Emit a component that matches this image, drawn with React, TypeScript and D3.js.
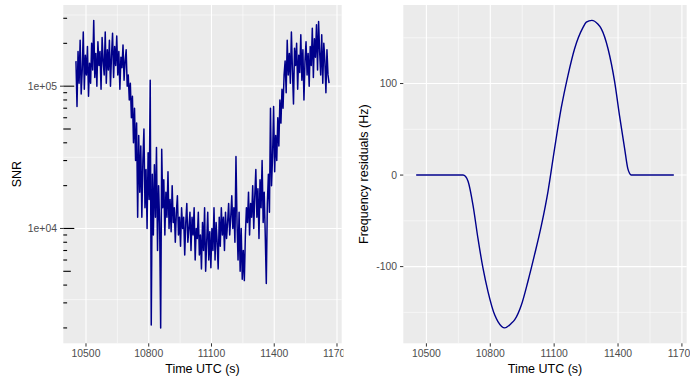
import React from "react";
import * as d3 from "d3";

// SNR samples every 5 s from 10452 s, in thousands
const snrStart = 10452;
const snrStep = 5;
const snrThousands = [
  150, 72, 175, 105, 210, 88, 130, 240, 95, 165,
  120, 190, 85, 145, 105, 200, 130, 290, 115, 170,
  100, 205, 140, 175, 95, 220, 150, 120, 240, 105,
  180, 130, 210, 100, 165, 235, 115, 190, 140, 225,
  120, 175, 95, 160, 135, 195, 110, 150, 180, 100,
  120, 80, 105, 60, 85, 40, 70, 30, 55, 12,
  45, 18, 38, 12, 30, 50, 14, 26, 10, 34,
  16, 110, 2.1, 24, 9, 28, 12, 37, 7, 20,
  11, 2.0, 36, 14, 22, 9, 18, 12, 25, 10,
  16, 9.5, 20, 11, 14, 8, 13, 17, 9, 12,
  7.5, 14, 10, 12, 6.5, 11, 15, 8, 10, 13,
  7, 12, 9, 14, 6, 10, 8.5, 13, 6.5, 9,
  5.2, 11, 7, 14, 5.0, 8, 13, 6, 9.5, 5.3,
  10, 7, 14, 6, 11, 8, 5.2, 12, 7.5, 14,
  9, 12, 7, 13, 8.5, 11, 15, 9, 12, 17,
  10, 14, 8, 32, 11, 6, 13, 5, 10, 4.4,
  7, 4.3, 9, 14, 11, 18, 9, 15, 12, 20,
  10, 17, 26, 12, 19, 8.5, 22, 14, 30, 11,
  18, 9, 4.1, 15, 24, 13, 70, 20, 32, 72,
  25, 45, 30, 60, 38, 80, 55, 95, 70, 120,
  150, 90, 210, 120, 170, 105, 240, 130, 75, 185,
  140, 200, 95, 165, 125, 230, 110, 180, 80, 150,
  205, 120, 170, 100, 190, 140, 255, 115, 215, 160,
  270, 130, 285, 175, 120, 230, 105, 200, 150, 90,
  180, 120, 105,
];

// frequency residuals (Hz) against time (s)
const freqTime = [
  10452, 10672, 10684, 10696, 10719, 10742, 10766, 10789, 10821, 10836, 10868,
  10899, 10915, 10946, 10977, 11008, 11040, 11071, 11102, 11133, 11165, 11196,
  11235, 11251, 11277, 11305, 11321, 11353, 11384, 11407, 11431, 11446, 11454,
  11462, 11662,
];
const freqResidual = [
  0, 0, -1.5, -7, -33, -69, -102, -127, -153, -160, -167,
  -162, -158, -142, -116, -87, -55, -18, 29, 73, 109, 138,
  161, 167, 169, 165, 160, 138, 102, 65, 29, 7, 2,
  0, 0,
];

const timeTicks = [10500, 10800, 11100, 11400, 11700];
const timeMinor = [10350, 10650, 10950, 11250, 11550, 11850];
const snrTicks = [1e4, 1e5];
const snrTickLabels = ["1e+04", "1e+05"];
const snrMinorExp = [3.5, 4.5, 5.5];
const freqTicks = [-100, 0, 100];
const freqTickLabels = ["-100", "0", "100"];
const freqMinor = [-150, -50, 50, 150];

const FONT = "'Liberation Sans', Arial, Helvetica, sans-serif";
const PANEL_BG = "#EBEBEB";
const LINE = "#00008B";

const snrData = snrThousands.map((v, i) => ({ t: snrStart + i * snrStep, v: v * 1000 }));
const freqData = freqTime.map((t, i) => ({ t, v: freqResidual[i] }));

function expand(ext: [number, number]): [number, number] {
  const r = ext[1] - ext[0];
  return [ext[0] - r * 0.05, ext[1] + r * 0.05];
}

export default function App() {
  const top = 5;
  const bottom = 343.3;

  // left panel
  const L = { x0: 63.3, x1: 341.7 };
  const xL = d3
    .scaleLinear()
    .domain(expand(d3.extent(snrData, (d) => d.t) as [number, number]))
    .range([L.x0, L.x1]);
  const logExt = expand(
    d3.extent(snrData, (d) => Math.log10(d.v)) as [number, number]
  );
  const yL = d3
    .scaleLog()
    .domain([Math.pow(10, logExt[0]), Math.pow(10, logExt[1])])
    .range([bottom, top]);
  const snrLine = d3
    .line<{ t: number; v: number }>()
    .x((d) => xL(d.t))
    .y((d) => yL(d.v));

  // right panel
  const R = { x0: 403.3, x1: 686.7 };
  const xR = d3
    .scaleLinear()
    .domain(expand(d3.extent(freqData, (d) => d.t) as [number, number]))
    .range([R.x0, R.x1]);
  const yR = d3
    .scaleLinear()
    .domain(expand(d3.extent(freqData, (d) => d.v) as [number, number]))
    .range([bottom, top]);
  const freqLine = d3
    .line<{ t: number; v: number }>()
    .x((d) => xR(d.t))
    .y((d) => yR(d.v))
    .curve(d3.curveMonotoneX);

  // log ticks inside left panel
  const [dLo, dHi] = yL.domain();
  const logTicks: { v: number; len: number }[] = [];
  [1e3, 1e4, 1e5].forEach((dec) => {
    for (let m = 1; m <= 9; m++) {
      const v = dec * m;
      if (v >= dLo && v <= dHi) logTicks.push({ v, len: m === 1 ? 11 : m === 5 ? 7.5 : 3.8 });
    }
  });

  const inRange = (s: any, v: number) => {
    const r = s.range();
    const p = s(v);
    return p >= Math.min(r[0], r[1]) && p <= Math.max(r[0], r[1]);
  };

  const xAxis = (xs: any, x0: number, x1: number) => (
    <g>
      {timeTicks.map((t) => (
        <g key={t}>
          <line x1={xs(t)} x2={xs(t)} y1={bottom} y2={bottom + 3.3} stroke="#333" strokeWidth={1} />
          <text x={xs(t)} y={bottom + 13.3} textAnchor="middle" fontSize={10.4} fill="#4d4d4d" fontFamily={FONT}>
            {t}
          </text>
        </g>
      ))}
      <text x={(x0 + x1) / 2} y={373} textAnchor="middle" fontSize={12.5} fill="#000" fontFamily={FONT}>
        Time UTC (s)
      </text>
    </g>
  );

  const vGrid = (xs: any) => (
    <g>
      {timeMinor.filter((t) => inRange(xs, t)).map((t) => (
        <line key={"m" + t} x1={xs(t)} x2={xs(t)} y1={top} y2={bottom} stroke="#fff" strokeWidth={0.55} />
      ))}
      {timeTicks.filter((t) => inRange(xs, t)).map((t) => (
        <line key={"M" + t} x1={xs(t)} x2={xs(t)} y1={top} y2={bottom} stroke="#fff" strokeWidth={1.1} />
      ))}
    </g>
  );

  return (
    <svg width={690} height={378} style={{ position: "absolute", left: 0, top: 0, background: "#fff" }}>
      <defs>
        <clipPath id="leftClip">
          <rect x={0} y={0} width={343.5} height={378} />
        </clipPath>
      </defs>

      {/* LEFT PLOT */}
      <g clipPath="url(#leftClip)">
        <rect x={L.x0} y={top} width={L.x1 - L.x0} height={bottom - top} fill={PANEL_BG} />
        {snrMinorExp.map((e) => (
          <line key={e} x1={L.x0} x2={L.x1} y1={yL(Math.pow(10, e))} y2={yL(Math.pow(10, e))} stroke="#fff" strokeWidth={0.55} />
        ))}
        {snrTicks.map((v) => (
          <line key={v} x1={L.x0} x2={L.x1} y1={yL(v)} y2={yL(v)} stroke="#fff" strokeWidth={1.1} />
        ))}
        {vGrid(xL)}
        <path d={snrLine(snrData) || ""} fill="none" stroke={LINE} strokeWidth={1.5} strokeLinejoin="round" />
        {logTicks.map((d) => (
          <line key={d.v} x1={L.x0} x2={L.x0 + d.len} y1={yL(d.v)} y2={yL(d.v)} stroke="#000" strokeWidth={1.1} />
        ))}
        {snrTicks.map((v, i) => (
          <g key={v}>
            <line x1={L.x0 - 3.3} x2={L.x0} y1={yL(v)} y2={yL(v)} stroke="#333" strokeWidth={1} />
            <text x={L.x0 - 6.3} y={yL(v) + 3.7} textAnchor="end" fontSize={10.4} fill="#4d4d4d" fontFamily={FONT}>
              {snrTickLabels[i]}
            </text>
          </g>
        ))}
        {xAxis(xL, L.x0, L.x1)}
        <text transform={`translate(20.5, ${(top + bottom) / 2}) rotate(-90)`} textAnchor="middle" fontSize={12.5} fill="#000" fontFamily={FONT}>
          SNR
        </text>
      </g>

      {/* RIGHT PLOT */}
      <g>
        <rect x={R.x0} y={top} width={R.x1 - R.x0} height={bottom - top} fill={PANEL_BG} />
        {freqMinor.map((v) => (
          <line key={v} x1={R.x0} x2={R.x1} y1={yR(v)} y2={yR(v)} stroke="#fff" strokeWidth={0.55} />
        ))}
        {freqTicks.map((v) => (
          <line key={v} x1={R.x0} x2={R.x1} y1={yR(v)} y2={yR(v)} stroke="#fff" strokeWidth={1.1} />
        ))}
        {vGrid(xR)}
        <path d={freqLine(freqData) || ""} fill="none" stroke={LINE} strokeWidth={1.4} />
        {freqTicks.map((v, i) => (
          <g key={v}>
            <line x1={R.x0 - 3.3} x2={R.x0} y1={yR(v)} y2={yR(v)} stroke="#333" strokeWidth={1} />
            <text x={R.x0 - 6.3} y={yR(v) + 3.7} textAnchor="end" fontSize={10.4} fill="#4d4d4d" fontFamily={FONT}>
              {freqTickLabels[i]}
            </text>
          </g>
        ))}
        {xAxis(xR, R.x0, R.x1)}
        <text transform={`translate(367.5, ${(top + bottom) / 2}) rotate(-90)`} textAnchor="middle" fontSize={12.5} fill="#000" fontFamily={FONT}>
          Frequency residuals (Hz)
        </text>
      </g>
    </svg>
  );
}
